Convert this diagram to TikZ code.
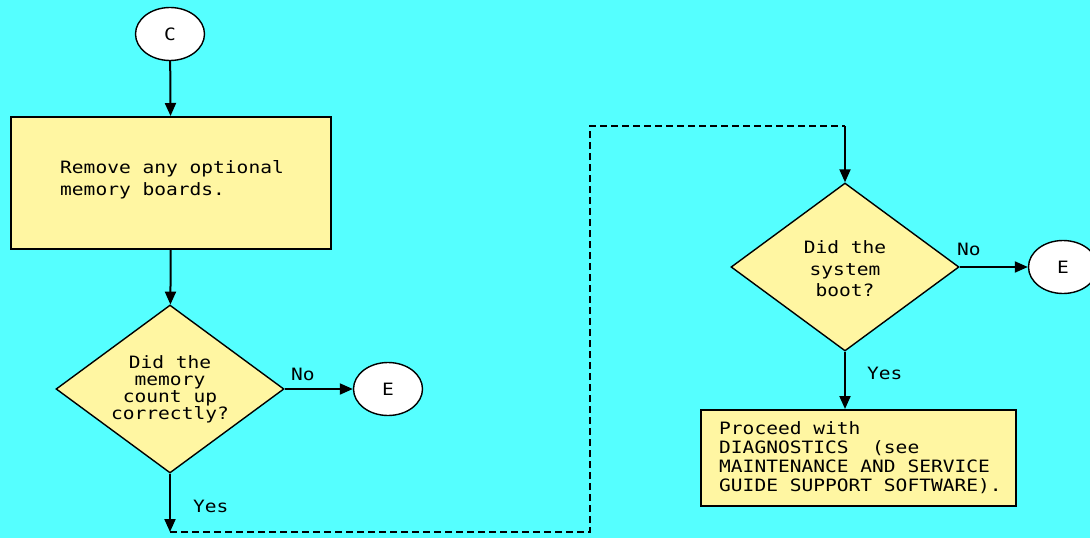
\documentclass[tikz,border=0pt]{standalone}
\usepackage{fontspec}
\usetikzlibrary{shapes.geometric,arrows.meta}
\newfontfamily\pixfont[FakeStretch=1.15]{DejaVu Sans Mono}
\definecolor{bgcyan}{HTML}{55FFFF}
\definecolor{paleyellow}{HTML}{FFF6A2}
\begin{document}
\begin{tikzpicture}[x=1pt,y=-1pt,
  txt/.style={font=\pixfont\fontsize{17}{19}\selectfont, inner sep=0pt},
  conn/.style={ellipse, draw=black, line width=1.4pt, fill=white,
    minimum width=69pt, minimum height=53pt, inner sep=0pt, txt},
  procbox/.style={draw=black, line width=2pt, fill=paleyellow},
  decision/.style={diamond, draw=black, line width=1.4pt, fill=paleyellow,
    minimum width=228pt, minimum height=168pt, inner sep=0pt},
  flow/.style={line width=2pt, -{Triangle[length=13pt,width=11pt]}},
  jump/.style={line width=2pt, dash pattern=on 7pt off 4pt},
]
% canvas
\fill[bgcyan] (0,0) rectangle (1090,538);
\useasboundingbox (0,0) rectangle (1090,538);
\clip (0,0) rectangle (1090,538);

% left column
\node[conn] (c) at (170,34) {C};
\node[procbox, minimum width=320pt, minimum height=132pt, anchor=north west]
  (remove) at (10,116) {};
\node[txt, align=left, anchor=north west, font=\pixfont\fontsize{17}{22}\selectfont]
  (removetxt) at (60,160) {Remove any optional\\memory boards.};
\node[decision] (dmem) at (170,389) {};
\node[txt, align=center, font=\pixfont\fontsize{17}{17}\selectfont]
  (dmemtxt) at (170,389) {Did the\\memory\\count up\\correctly?};
\node[conn] (e1) at (388,389) {E};
\coordinate (yesend) at (170,532);

% right column
\node[decision] (dboot) at (845,267) {};
\node[txt, align=center, font=\pixfont\fontsize{17}{21.5}\selectfont]
  (dboottxt) at (845,269) {Did the\\system\\boot?};
\node[conn] (e2) at (1063,267) {E};
\node[procbox, minimum width=315pt, minimum height=96pt, anchor=north west]
  (proceed) at (700,409) {};
\node[txt, align=left, anchor=north west] (proceedtxt) at (719,421)
  {Proceed with\\DIAGNOSTICS\ \ (see\\MAINTENANCE AND SERVICE\\GUIDE SUPPORT SOFTWARE).};

% dashed off-page route
\coordinate (r1) at (590,532);
\coordinate (r2) at (590,126);
\coordinate (r3) at (845,126);

% connectors
\draw[flow] (c) -- (remove);
\draw[flow] (remove) -- (dmem);
\draw[flow] (dmem.east) -- (e1);
\draw[flow] (dmem.south) -- (yesend);
\draw[jump] (yesend) -- (r1) -- (r2) -- (r3);
\draw[flow] (r3) -- (dboot.north);
\draw[flow] (dboot.east) -- (e2);
\draw[flow] (dboot.south) -- (dboot.south |- proceed.north);

% branch labels
\node[txt, anchor=base west] (no1) at (291,380) {No};
\node[txt, anchor=base west] (yes1) at (193,512) {Yes};
\node[txt, anchor=base west] (no2) at (957,255) {No};
\node[txt, anchor=base west] (yes2) at (867,379) {Yes};
\end{tikzpicture}
\end{document}
